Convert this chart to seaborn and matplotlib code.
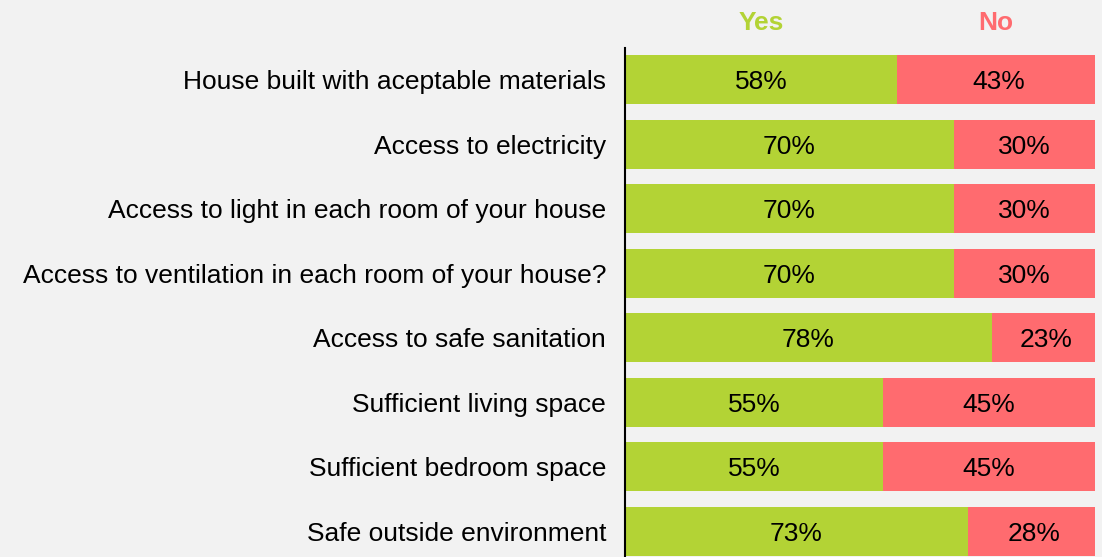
import matplotlib
matplotlib.use("Agg")
import matplotlib.pyplot as plt
import seaborn as sns
import pandas as pd

categories = [
    "House built with aceptable materials",
    "Access to electricity",
    "Access to light in each room of your house",
    "Access to ventilation in each room of your house?",
    "Access to safe sanitation",
    "Sufficient living space",
    "Sufficient bedroom space",
    "Safe outside environment",
]
yes_pct = [58, 70, 70, 70, 78, 55, 55, 73]
no_pct = [43, 30, 30, 30, 23, 45, 45, 28]

GREEN = "#b3d335"
RED = "#ff6b6f"
BG = "#f2f2f2"

sns.set_theme(style="white")
plt.rcParams["font.family"] = ["Liberation Sans", "DejaVu Sans"]

df = pd.DataFrame({"category": categories, "yes": yes_pct, "no": no_pct})
df["total"] = df["yes"] + df["no"]

fig = plt.figure(figsize=(11.02, 5.57), dpi=100, facecolor=BG)
ax = fig.add_axes([0.567, 0.0, 0.4266, 0.9138])
ax.set_facecolor(BG)

# stacked: full "No" bar underneath, "Yes" drawn over it
sns.barplot(data=df, x="total", y="category", color=RED, width=0.76,
            saturation=1, linewidth=0, ax=ax, orient="h")
sns.barplot(data=df, x="yes", y="category", color=GREEN, width=0.76,
            saturation=1, linewidth=0, ax=ax, orient="h")

FS = 19
for i, (y, n) in enumerate(zip(yes_pct, no_pct)):
    ax.text(y / 2, i, f"{y}%", ha="center", va="center_baseline", fontsize=FS, color="black")
    ax.text(y + n / 2, i, f"{n}%", ha="center", va="center_baseline", fontsize=FS, color="black")

ax.set_xlim(0, 100)
ax.set_ylim(7.395, -0.49)
ax.set_xlabel("")
ax.set_ylabel("")
ax.set_xticks([])
ax.tick_params(axis="y", length=0, pad=13.5, labelsize=FS, labelcolor="black")
for side in ["top", "right", "bottom"]:
    ax.spines[side].set_visible(False)
ax.spines["left"].set_color("black")
ax.spines["left"].set_linewidth(1.5)

# column headers above the first row's segments
ax.text(yes_pct[0] / 2, -0.92, "Yes", ha="center", va="center_baseline",
        fontsize=FS, fontweight="bold", color=GREEN, clip_on=False)
ax.text(yes_pct[0] + (100 - yes_pct[0]) / 2, -0.92, "No", ha="center", va="center_baseline",
        fontsize=FS, fontweight="bold", color=RED, clip_on=False)

fig.savefig("out.png", dpi=100, facecolor=BG)
